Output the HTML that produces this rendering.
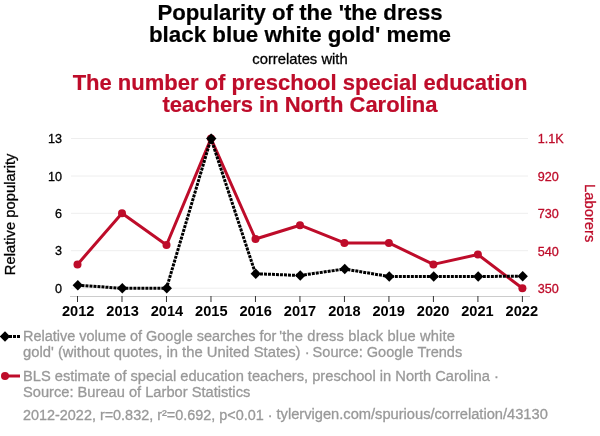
<!DOCTYPE html>
<html>
<head>
<meta charset="utf-8">
<style>
html,body{margin:0;padding:0;background:#fff;}
body{width:600px;height:436px;position:relative;overflow:hidden;will-change:transform;font-family:"Liberation Sans",sans-serif;}
.t{position:absolute;white-space:pre;line-height:1;}
.title{left:0;width:600px;text-align:center;font-weight:700;font-size:22.2px;color:#000;-webkit-text-stroke:0.2px currentColor;}
.red{color:#BE0C2A;}
.leg{left:23px;font-size:14.67px;color:#999;-webkit-text-stroke:0.3px #999;}
</style>
</head>
<body>
<div class="t title" style="top:1.6px">Popularity of the 'the dress</div>
<div class="t title" style="top:23.5px;font-size:22.35px">black blue white gold' meme</div>
<div class="t" style="left:0;width:600px;text-align:center;top:51.9px;font-size:14.8px;color:#000;-webkit-text-stroke:0.3px #000">correlates with</div>
<div class="t title red" style="top:71.5px;font-size:22px">The number of preschool special education</div>
<div class="t title red" style="top:93.5px;font-size:22px">teachers in North Carolina</div>

<svg width="600" height="436" style="position:absolute;left:0;top:0">
  <g stroke="#eeeeee" stroke-width="1">
    <line x1="71" y1="138.5" x2="528" y2="138.5"/>
    <line x1="71" y1="176" x2="528" y2="176"/>
    <line x1="71" y1="213.3" x2="528" y2="213.3"/>
    <line x1="71" y1="250.7" x2="528" y2="250.7"/>
    <line x1="71" y1="288.2" x2="528" y2="288.2"/>
  </g>
  <line x1="70" y1="296.5" x2="530" y2="296.5" stroke="#cccccc" stroke-width="1"/>
  <g stroke="#333" stroke-width="1">
    <line x1="77.5" y1="296" x2="77.5" y2="302"/>
    <line x1="121.99" y1="296" x2="121.99" y2="302"/>
    <line x1="166.48" y1="296" x2="166.48" y2="302"/>
    <line x1="210.97" y1="296" x2="210.97" y2="302"/>
    <line x1="255.46" y1="296" x2="255.46" y2="302"/>
    <line x1="299.95" y1="296" x2="299.95" y2="302"/>
    <line x1="344.44" y1="296" x2="344.44" y2="302"/>
    <line x1="388.93" y1="296" x2="388.93" y2="302"/>
    <line x1="433.42" y1="296" x2="433.42" y2="302"/>
    <line x1="477.91" y1="296" x2="477.91" y2="302"/>
    <line x1="522.4" y1="296" x2="522.4" y2="302"/>
  </g>
  <g font-family="Liberation Sans" font-size="12.6" fill="#000" stroke="#000" stroke-width="0.3" text-anchor="end">
    <text x="62" y="143.1">13</text>
    <text x="62" y="180.6">10</text>
    <text x="62" y="217.9">6</text>
    <text x="62" y="255.3">3</text>
    <text x="62" y="292.8">0</text>
  </g>
  <g font-family="Liberation Sans" font-size="12.6" fill="#BE0C2A" stroke="#BE0C2A" stroke-width="0.3" text-anchor="start">
    <text x="537.7" y="143.4">1.1K</text>
    <text x="537.7" y="180.9">920</text>
    <text x="537.7" y="218.2">730</text>
    <text x="537.7" y="255.6">540</text>
    <text x="537.7" y="293.1">350</text>
  </g>
  <g font-family="Liberation Sans" font-size="14.6" font-weight="700" fill="#000" text-anchor="middle">
    <text x="78.20" y="316.3">2012</text>
    <text x="122.56" y="316.3">2013</text>
    <text x="166.92" y="316.3">2014</text>
    <text x="211.28" y="316.3">2015</text>
    <text x="255.64" y="316.3">2016</text>
    <text x="300.00" y="316.3">2017</text>
    <text x="344.36" y="316.3">2018</text>
    <text x="388.72" y="316.3">2019</text>
    <text x="433.08" y="316.3">2020</text>
    <text x="477.44" y="316.3">2021</text>
    <text x="521.80" y="316.3">2022</text>
  </g>
  <text transform="translate(15,214.4) rotate(-90)" font-family="Liberation Sans" font-size="14.8" fill="#000" stroke="#000" stroke-width="0.3" text-anchor="middle">Relative popularity</text>
  <text transform="translate(584.6,213.2) rotate(90)" font-family="Liberation Sans" font-size="14.8" fill="#BE0C2A" stroke="#BE0C2A" stroke-width="0.3" text-anchor="middle">Laborers</text>
  <polyline fill="none" stroke="#BE0C2A" stroke-width="3" stroke-linejoin="round" points="77.5,264.4 122.0,213.2 166.5,245 211.0,138.6 255.5,239 300.0,225.2 344.4,242.9 388.9,242.9 433.4,264.4 477.9,254.5 522.4,288.2"/>
  <g fill="#BE0C2A">
    <circle cx="77.5" cy="264.4" r="4.0"/>
    <circle cx="122.0" cy="213.2" r="4.0"/>
    <circle cx="166.5" cy="245" r="4.0"/>
    <circle cx="211.0" cy="138.6" r="4.0"/>
    <circle cx="255.5" cy="239" r="4.0"/>
    <circle cx="300.0" cy="225.2" r="4.0"/>
    <circle cx="344.4" cy="242.9" r="4.0"/>
    <circle cx="388.9" cy="242.9" r="4.0"/>
    <circle cx="433.4" cy="264.4" r="4.0"/>
    <circle cx="477.9" cy="254.5" r="4.0"/>
    <circle cx="522.4" cy="288.2" r="4.0"/>
  </g>
  <polyline fill="none" stroke="#000" stroke-width="3" stroke-dasharray="3 1" points="77.5,285.2 122.0,288.3 166.5,288.3 211.0,138.6 255.5,273.7 300.0,275.5 344.4,269 388.9,276.5 433.4,276.5 477.9,276.5 522.4,276.2"/>
  <g fill="#000">
    <path d="M77.80,280.00 L83.00,285.20 L77.80,290.40 L72.60,285.20Z"/>
    <path d="M122.29,283.10 L127.49,288.30 L122.29,293.50 L117.09,288.30Z"/>
    <path d="M166.78,283.10 L171.98,288.30 L166.78,293.50 L161.58,288.30Z"/>
    <path d="M211.27,133.40 L216.47,138.60 L211.27,143.80 L206.07,138.60Z"/>
    <path d="M255.76,268.50 L260.96,273.70 L255.76,278.90 L250.56,273.70Z"/>
    <path d="M300.25,270.30 L305.45,275.50 L300.25,280.70 L295.05,275.50Z"/>
    <path d="M344.74,263.80 L349.94,269.00 L344.74,274.20 L339.54,269.00Z"/>
    <path d="M389.23,271.30 L394.43,276.50 L389.23,281.70 L384.03,276.50Z"/>
    <path d="M433.72,271.30 L438.92,276.50 L433.72,281.70 L428.52,276.50Z"/>
    <path d="M478.21,271.30 L483.41,276.50 L478.21,281.70 L473.01,276.50Z"/>
    <path d="M522.70,271.00 L527.90,276.20 L522.70,281.40 L517.50,276.20Z"/>
  </g>
  <line x1="9" y1="336.5" x2="20" y2="336.5" stroke="#000" stroke-width="3" stroke-dasharray="3 1"/>
  <path d="M5,331.3 L10.2,336.5 L5,341.7 L-0.20000000000000018,336.5Z" fill="#000"/>
  <line x1="5" y1="376" x2="20" y2="376" stroke="#BE0C2A" stroke-width="3"/>
  <circle cx="5" cy="376" r="4.0" fill="#BE0C2A"/>
</svg>

<div class="t leg" style="top:328.8px;font-size:14.47px">Relative volume of Google searches for</div>
<div class="t leg" id="l1b" style="top:328.8px;left:279.3px;letter-spacing:0.16px">'the dress black blue white</div>
<div class="t leg" style="top:344.8px;font-size:14.81px">gold' (without quotes, in the United States) ·</div>
<div class="t leg" id="l2b" style="top:344.8px;left:312.6px;font-size:14.55px">Source: Google Trends</div>
<div class="t leg" style="top:368.6px">BLS estimate of special education teachers, preschool in North Carolina ·</div>
<div class="t leg" style="top:384.7px">Source: Bureau of Larbor Statistics</div>
<div class="t leg" style="top:407.6px;font-size:14.41px">2012-2022, r=0.832, r²=0.692, p&lt;0.01 ·</div>
<div class="t leg" id="tv" style="top:407.3px;left:276.5px;font-size:14.67px">tylervigen.com/spurious/correlation/43130</div>
</body>
</html>
